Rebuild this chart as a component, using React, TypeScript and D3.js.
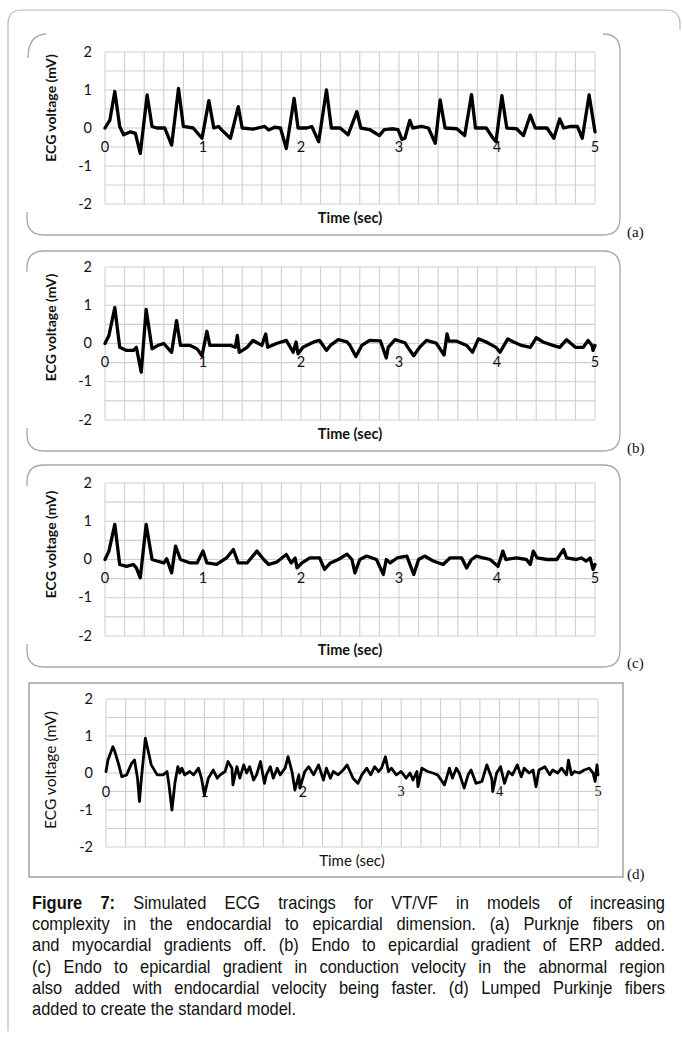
import React, { useEffect, useRef } from 'react'
import * as d3 from 'd3'

// ticks shared by the four tracings
const xTicks = [0, 1, 2, 3, 4, 5]
const yTicks = [-2, -1, 0, 1, 2]

// (a) Purkinje on, gradients off  -- [time s, mV]
const traceA: [number, number][] = [
  [0, 0], [0.05, 0.21], [0.10, 0.96], [0.15, 0.04], [0.19, -0.18], [0.26, -0.1], [0.31, -0.14], [0.36, -0.67],
  [0.43, 0.87], [0.48, 0.04], [0.53, 0], [0.61, 0], [0.68, -0.45], [0.75, 1.04], [0.80, 0.04], [0.90, 0],
  [0.99, -0.27], [1.06, 0.72], [1.11, 0], [1.16, 0.04], [1.19, -0.05], [1.28, -0.27], [1.36, 0.56], [1.40, 0],
  [1.51, -0.03], [1.63, 0.04], [1.67, -0.05], [1.73, 0.02], [1.79, 0], [1.85, -0.54], [1.93, 0.78], [1.97, 0],
  [2.06, 0], [2.11, 0.04], [2.18, -0.36], [2.26, 1.0], [2.31, 0], [2.40, 0], [2.48, -0.18], [2.57, 0.43],
  [2.61, 0], [2.70, -0.04], [2.80, -0.2], [2.85, -0.04], [2.94, -0.02], [2.99, -0.04], [3.03, -0.3], [3.06, -0.27],
  [3.11, 0.2], [3.14, 0], [3.23, 0.04], [3.30, 0], [3.37, -0.4], [3.42, 0.74], [3.47, 0], [3.59, -0.02],
  [3.67, -0.2], [3.74, 0.88], [3.78, 0], [3.89, 0], [3.96, -0.27], [3.99, -0.36], [4.05, 0.85], [4.10, 0],
  [4.20, -0.02], [4.27, -0.2], [4.34, 0.34], [4.39, 0], [4.51, 0], [4.58, -0.27], [4.64, 0.24], [4.68, 0],
  [4.75, 0.04], [4.82, 0.04], [4.87, -0.27], [4.94, 0.87], [5.0, -0.1],
]

// (b) endo-epi gradient of ERP
const traceB: [number, number][] = [
  [0, 0], [0.04, 0.21], [0.10, 0.94], [0.15, -0.1], [0.22, -0.18], [0.29, -0.18], [0.32, -0.1], [0.37, -0.75],
  [0.42, 0.89], [0.48, -0.14], [0.54, -0.05], [0.60, 0], [0.68, -0.23], [0.73, 0.6], [0.77, -0.05], [0.87, -0.05],
  [0.94, -0.14], [0.99, -0.32], [1.04, 0.32], [1.07, -0.05], [1.17, -0.05], [1.28, -0.05], [1.33, -0.1], [1.35, 0.21],
  [1.37, -0.23], [1.45, -0.1], [1.51, 0.08], [1.60, -0.05], [1.64, 0.25], [1.66, -0.1], [1.75, 0], [1.85, 0.08],
  [1.92, -0.23], [1.95, 0.04], [1.97, -0.27], [2.02, -0.1], [2.13, 0.04], [2.19, 0.08], [2.26, -0.18], [2.30, -0.05],
  [2.38, 0.1], [2.47, 0.04], [2.50, -0.05], [2.56, -0.34], [2.62, -0.05], [2.70, 0.08], [2.81, 0.07], [2.87, -0.38],
  [2.89, -0.1], [2.96, 0.1], [3.06, 0.02], [3.09, -0.1], [3.15, -0.32], [3.21, -0.1], [3.28, 0.08], [3.38, 0.01],
  [3.46, -0.3], [3.49, 0.25], [3.51, 0.06], [3.59, 0.06], [3.69, -0.05], [3.75, -0.23], [3.81, 0.12], [3.89, 0.04],
  [3.99, -0.1], [4.03, -0.23], [4.11, 0.12], [4.17, 0.04], [4.25, -0.05], [4.34, -0.1], [4.40, 0.15], [4.47, 0.04],
  [4.57, -0.05], [4.64, -0.1], [4.71, 0.1], [4.80, -0.1], [4.88, -0.1], [4.93, 0.08], [4.97, -0.05], [4.98, -0.18],
  [5.0, -0.05],
]

// (c) endo-epi gradient of conduction velocity
const traceC: [number, number][] = [
  [0, 0], [0.04, 0.22], [0.10, 0.92], [0.15, -0.13], [0.22, -0.18], [0.29, -0.13], [0.32, -0.22], [0.36, -0.48],
  [0.42, 0.92], [0.48, 0], [0.53, -0.04], [0.60, -0.09], [0.63, 0.02], [0.68, -0.35], [0.72, 0.35], [0.77, 0],
  [0.87, -0.09], [0.94, -0.09], [1.00, 0.22], [1.04, -0.09], [1.14, -0.13], [1.24, 0.04], [1.31, 0.26], [1.36, -0.09],
  [1.45, -0.09], [1.55, 0.22], [1.62, 0], [1.67, -0.13], [1.75, -0.07], [1.85, 0.13], [1.90, -0.09], [1.94, 0.04],
  [1.96, -0.22], [2.01, -0.09], [2.09, 0.04], [2.19, 0.04], [2.24, -0.26], [2.30, -0.09], [2.38, 0], [2.47, 0.14],
  [2.52, 0], [2.55, -0.35], [2.60, 0], [2.67, 0.09], [2.77, 0], [2.84, -0.39], [2.87, 0], [2.91, -0.09],
  [2.98, 0.04], [3.08, 0.09], [3.15, -0.39], [3.20, 0], [3.26, 0.09], [3.35, -0.04], [3.45, -0.13], [3.52, 0.04],
  [3.64, 0.04], [3.69, -0.22], [3.74, 0], [3.79, 0.09], [3.86, 0.04], [3.93, 0], [4.01, -0.18], [4.06, 0.22],
  [4.09, 0], [4.20, 0.04], [4.30, 0], [4.34, -0.13], [4.37, 0.22], [4.41, 0.04], [4.51, 0], [4.61, 0],
  [4.68, 0.26], [4.71, 0.04], [4.81, 0], [4.86, 0.04], [4.91, -0.04], [4.95, 0.04], [4.98, -0.26], [5.0, -0.13],
]

// (d) standard model with lumped Purkinje fibers
const traceD: [number, number][] = [
  [0, 0.04], [0.02, 0.35], [0.07, 0.71], [0.09, 0.58], [0.13, 0.22], [0.16, -0.1], [0.21, -0.05], [0.26, 0.26],
  [0.29, 0.35], [0.32, -0.14], [0.34, -0.77], [0.36, -0.14], [0.40, 0.94], [0.43, 0.58], [0.46, 0.22], [0.52, -0.05],
  [0.58, -0.05], [0.62, 0.04], [0.64, -0.32], [0.67, -1.0], [0.70, -0.28], [0.73, 0.17], [0.75, 0], [0.77, 0.13],
  [0.80, -0.05], [0.85, 0.04], [0.89, -0.05], [0.94, 0.13], [0.97, -0.14], [1.00, -0.59], [1.02, -0.37], [1.04, -0.14],
  [1.09, 0.08], [1.13, -0.14], [1.16, -0.05], [1.21, 0.04], [1.24, 0.31], [1.28, 0.13], [1.29, -0.32], [1.33, 0.17],
  [1.36, -0.14], [1.40, 0.22], [1.43, 0], [1.46, 0.17], [1.50, -0.19], [1.53, -0.05], [1.57, 0.31], [1.61, -0.28],
  [1.63, -0.05], [1.67, 0.17], [1.70, -0.14], [1.74, 0.13], [1.77, -0.05], [1.82, 0.13], [1.85, 0.44], [1.89, 0.04],
  [1.92, -0.46], [1.96, -0.05], [1.97, -0.41], [2.02, 0.04], [2.06, 0.17], [2.11, -0.05], [2.16, 0.22], [2.21, -0.19],
  [2.24, 0.13], [2.28, -0.14], [2.31, 0.04], [2.36, -0.05], [2.41, 0.08], [2.45, 0.22], [2.48, 0.04], [2.51, -0.14],
  [2.56, -0.28], [2.60, -0.05], [2.65, 0.13], [2.69, -0.05], [2.73, 0.17], [2.77, 0.04], [2.80, 0.13], [2.84, 0.44],
  [2.87, 0.04], [2.90, 0.13], [2.95, -0.05], [3.00, 0.04], [3.05, -0.14], [3.09, 0], [3.12, -0.19], [3.16, 0.04],
  [3.17, -0.37], [3.21, 0.13], [3.27, 0.04], [3.32, 0], [3.37, -0.05], [3.44, -0.32], [3.49, 0.13], [3.52, -0.14],
  [3.56, 0.13], [3.59, 0], [3.64, -0.41], [3.68, -0.05], [3.71, 0.08], [3.76, -0.28], [3.82, -0.23], [3.87, 0.22],
  [3.92, -0.14], [3.93, -0.5], [3.97, 0], [4.01, 0.17], [4.05, -0.28], [4.09, 0.04], [4.13, -0.05], [4.18, 0.22],
  [4.22, -0.1], [4.25, 0.13], [4.30, 0], [4.34, 0.08], [4.37, -0.37], [4.40, 0.08], [4.46, 0.17], [4.51, -0.05],
  [4.54, 0.08], [4.59, 0], [4.63, 0.13], [4.68, -0.05], [4.70, 0.35], [4.73, -0.05], [4.76, 0.04], [4.81, 0],
  [4.86, 0.08], [4.91, 0.13], [4.95, 0], [4.97, -0.23], [4.99, 0.22], [5.0, -0.05],
]

const captionLines = [
  'Simulated ECG tracings for VT/VF in models of increasing',
  'complexity in the endocardial to epicardial dimension. (a) Purknje fibers on',
  'and myocardial gradients off. (b) Endo to epicardial gradient of ERP added.',
  '(c) Endo to epicardial gradient in conduction velocity in the abnormal region',
  'also added with endocardial velocity being faster. (d) Lumped Purkinje fibers',
  'added to create the standard model.',
]

const SANS = 'Lato, "Open Sans", sans-serif'
const SERIF = '"Liberation Serif", "Times New Roman", serif'
const CAP_SCALE = 0.94 // slightly condensed caption face
const CAP_W = 633

function Panel({ data, box, titleDy, plain }: any) {
  const x = d3.scaleLinear().domain([0, 5]).range([box.left, box.right])
  const y = d3.scaleLinear().domain([-2, 2]).range([box.bottom, box.top])
  const line = d3.line<[number, number]>().x(d => x(d[0])).y(d => y(d[1]))
  const gridX = x.ticks(25)
  const gridY = y.ticks(8)
  const midY = (box.top + box.bottom) / 2
  return (
    <g>
      {gridX.map(t => (
        <line key={'gx' + t} x1={x(t)} x2={x(t)} y1={box.top} y2={box.bottom} stroke="#cfcfcf" strokeWidth={1.1} />
      ))}
      {gridY.map(v => (
        <line key={'gy' + v} x1={box.left} x2={box.right} y1={y(v)} y2={y(v)} stroke="#cfcfcf" strokeWidth={1.1} />
      ))}
      {yTicks.map(v => (
        <text key={'yt' + v} x={box.left - 13} y={y(v) + 1} textAnchor="end" dominantBaseline="middle"
          fontFamily={SANS} fontSize={14.5} fill="#111">{v}</text>
      ))}
      {xTicks.map(t => (
        <text key={'xt' + t} x={x(t)} y={y(0) + 20} textAnchor="middle" dominantBaseline="middle"
          fontFamily={plain && t >= 3 ? SERIF : SANS} fontSize={14.5} fill="#111">{t}</text>
      ))}
      <path d={line(data) || ''} fill="none" stroke="#000" strokeWidth={plain ? 2.8 : 3.3}
        strokeLinejoin="round" strokeLinecap="round" />
      <text transform={`translate(52,${midY + titleDy}) rotate(-90)`} textAnchor="middle" dominantBaseline="middle"
        fontFamily={SANS} fontWeight={plain ? 400 : 700} fontSize={plain ? 15.5 : 14} fill="#111">ECG voltage (mV)</text>
      <text x={(box.left + box.right) / 2} y={box.bottom + 19} textAnchor="middle"
        fontFamily={SANS} fontWeight={plain ? 400 : 700} fontSize={plain ? 15 : 14.5} fill="#111">Time (sec)</text>
    </g>
  )
}

export default function App() {
  const capRef = useRef<SVGGElement>(null)

  // justify caption lines by widening the word spaces
  useEffect(() => {
    const justify = () => {
      d3.select(capRef.current).selectAll<SVGTextElement, unknown>('text.just').each(function () {
        this.setAttribute('word-spacing', '0')
        const nat = this.getComputedTextLength()
        const gaps = (this.textContent || '').split(' ').length - 1
        const target = CAP_W / CAP_SCALE
        if (gaps > 0) this.setAttribute('word-spacing', String((target - nat) / gaps))
      })
    }
    justify()
    if ((document as any).fonts) (document as any).fonts.ready.then(justify)
  }, [])

  const frame = '#a8a8a8'
  return (
    <svg width={683} height={1039} style={{ position: 'absolute', left: 0, top: 0, background: '#fff' }}>
      {/* outer figure frame */}
      <path d="M8 1031 V24 Q8 10 22 10 H666 Q680 10 680 24 V30" fill="none" stroke="#b8b8b8" strokeWidth={1.2} />

      {/* panel frames */}
      <path d="M28 58 Q28 35 46 34" fill="none" stroke={frame} strokeWidth={1.3} />
      <path d="M603 34 Q620 34 620 51 V218 Q620 235 603 235 H44 Q27 235 27 218 V212" fill="none" stroke={frame} strokeWidth={1.3} />
      <path d="M27 272 V268 Q27 251 44 251 H603 Q620 251 620 268 V434 Q620 451 603 451 H44 Q27 451 27 434 V428" fill="none" stroke={frame} strokeWidth={1.3} />
      <path d="M27 486 V482 Q27 465 44 465 H603 Q620 465 620 482 V650 Q620 667 603 667 H44 Q27 667 27 650 V644" fill="none" stroke={frame} strokeWidth={1.3} />
      <rect x={29} y={683} width={594} height={194} fill="none" stroke="#8c8c8c" strokeWidth={1.2} />

      <Panel data={traceA} box={{ left: 105, right: 595, top: 52, bottom: 204 }} titleDy={-20} />
      <Panel data={traceB} box={{ left: 105, right: 595, top: 267, bottom: 420 }} titleDy={-16} />
      <Panel data={traceC} box={{ left: 105, right: 595, top: 483, bottom: 636 }} titleDy={-15} />
      <Panel data={traceD} box={{ left: 106, right: 598, top: 699, bottom: 847 }} titleDy={-3} plain />

      {['(a)', '(b)', '(c)', '(d)'].map((s, i) => (
        <text key={s} x={627} y={[237, 453, 668, 879][i]} fontFamily={SERIF} fontSize={15} fill="#111">{s}</text>
      ))}

      {/* caption */}
      <g ref={capRef} transform={`translate(32,0) scale(${CAP_SCALE},1)`}
        fontFamily='"Liberation Sans", Arial, sans-serif' fontSize={17.5} fill="#111">
        {captionLines.map((s, i) => {
          const last = i === captionLines.length - 1
          return (
            <text key={i} className={last ? '' : 'just'} x={0} y={909 + i * 21.2}>
              {i === 0 ? <tspan fontWeight={700}>{'Figure 7: '}</tspan> : null}
              {s}
            </text>
          )
        })}
      </g>
    </svg>
  )
}
